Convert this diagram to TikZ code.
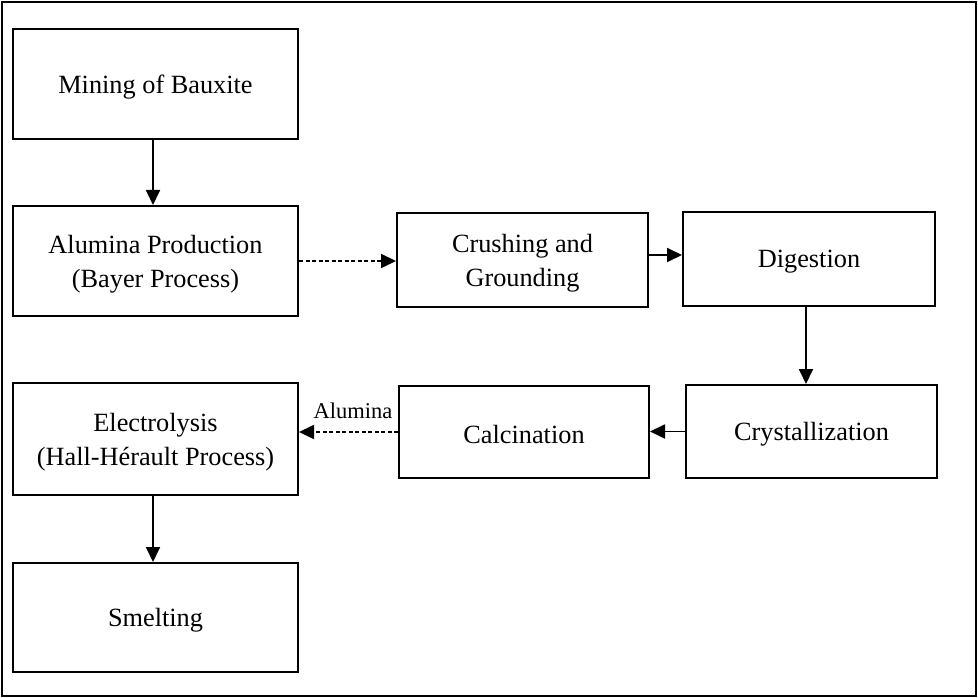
\documentclass[tikz,border=0pt]{standalone}
\usepackage{fontspec}
\setmainfont{Liberation Serif}
\usetikzlibrary{arrows.meta}
\begin{document}
\begin{tikzpicture}[x=1pt,y=-1pt,
  procbox/.style={draw,line width=2pt,inner sep=0pt},
  proctext/.style={align=center,inner sep=0pt,yshift=-3pt,
    font=\fontsize{26.3}{33.5}\selectfont},
  arr/.style={line width=1.8pt,-{Triangle[length=15pt,width=14pt]}},
  darr/.style={arr,dash pattern=on 4pt off 2.5pt}]
\useasboundingbox (0,0) rectangle (978,698);
\draw[line width=2pt] (2,2) rectangle (976,696);
\node[procbox,minimum width=285pt,minimum height=110pt,
  label={[proctext]center:Mining of Bauxite}] (min) at (155.5,84) {};
\node[procbox,minimum width=285pt,minimum height=110pt,
  label={[proctext]center:Alumina Production\\(Bayer Process)}] (ap) at (155.5,261) {};
\node[procbox,minimum width=251pt,minimum height=94pt,
  label={[proctext]center:Crushing and\\Grounding}] (cr) at (522.5,260) {};
\node[procbox,minimum width=252pt,minimum height=94pt,
  label={[proctext]center:Digestion}] (dig) at (809,259) {};
\node[procbox,minimum width=251pt,minimum height=93pt,
  label={[proctext]center:Crystallization}] (cry) at (811.5,431.5) {};
\node[procbox,minimum width=250pt,minimum height=92pt,
  label={[proctext]center:Calcination}] (cal) at (524,432) {};
\node[procbox,minimum width=285pt,minimum height=112pt,
  label={[proctext]center:Electrolysis\\(Hall-Hérault Process)}] (el) at (155.5,439) {};
\node[procbox,minimum width=285pt,minimum height=109pt,
  label={[proctext]center:Smelting}] (sm) at (155.5,617.5) {};
\coordinate (c1) at (153,0);
\draw[arr] (min.south -| c1) -- (ap.north -| c1);
\draw[darr] (ap.east) -- (ap.east -| cr.west);
\draw[arr] ([yshift=5pt]cr.east) -- ([yshift=5pt]cr.east -| dig.west);
\coordinate (c2) at (806,0);
\draw[arr] (dig.south -| c2) -- (cry.north -| c2);
\draw[arr] (cry.west) -- (cry.west -| cal.east);
\draw[darr] (cal.west) -- (cal.west -| el.east);
\node[font=\fontsize{22.5}{26}\selectfont,inner sep=0pt] (lab) at (353,411) {Alumina};
\draw[arr] (el.south -| c1) -- (sm.north -| c1);
\end{tikzpicture}
\end{document}
